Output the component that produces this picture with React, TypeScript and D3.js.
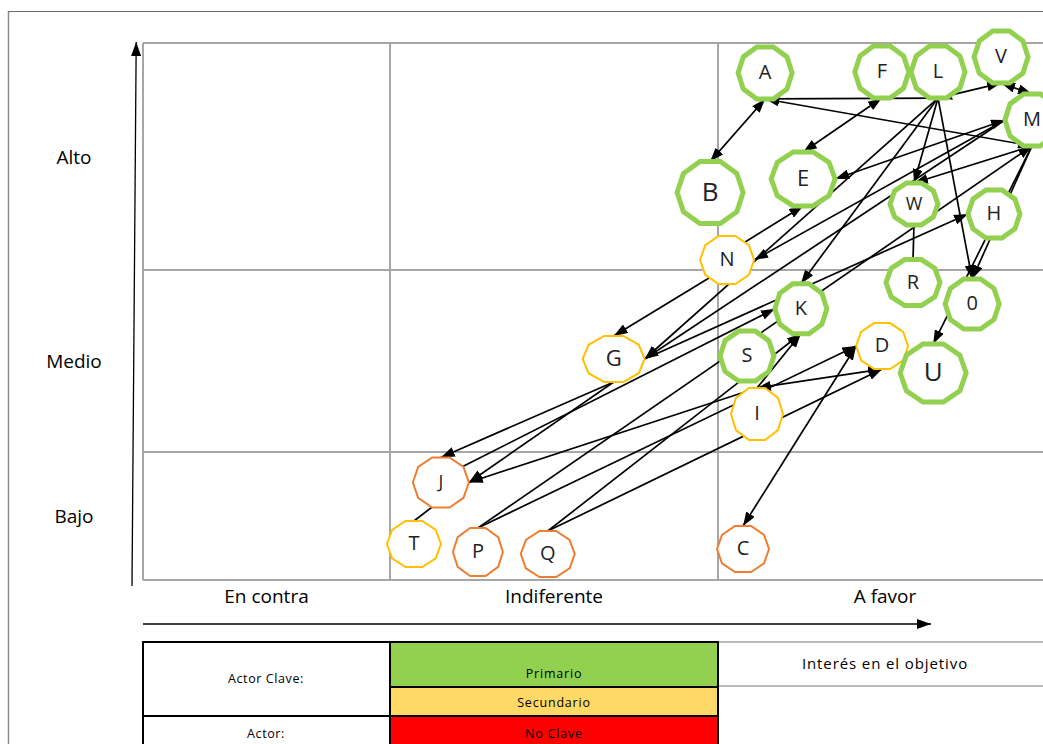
import React from "react";
import * as d3 from "d3";

// ---------- data ----------
const interestLabels = ["En contra", "Indiferente", "A favor"];
const influenceLabels = ["Bajo", "Medio", "Alto"];

const actorIds = ["A","F","L","V","M","B","E","W","H","N","R","O","K","G","S","D","U","I","J","T","P","Q","C"];
const actorText = ["A","F","L","V","M","B","E","W","H","N","R","0","K","G","S","D","U","I","J","T","P","Q","C"];
// interest (0..3 across En contra | Indiferente | A favor)
const actorInterest = [2.145,2.504,2.677,2.871,2.966,1.976,2.262,2.603,2.849,2.028,2.6,2.782,2.255,1.682,2.089,2.505,2.662,2.12,1.155,1.073,1.268,1.481,2.077];
// influence (0..3 across Bajo | Medio | Alto)
const actorInfluence = [2.868,2.872,2.872,2.938,2.661,2.341,2.401,2.291,2.247,2.044,1.931,1.813,1.787,1.511,1.527,1.582,1.434,1.209,0.762,0.281,0.219,0.203,0.242];
// P = primario, S = secundario, N = no clave
const actorKind = ["P","P","P","P","P","P","P","P","P","S","P","P","P","S","P","S","P","S","N","S","N","N","N"];

// relations: source, target, arrows
const links: [string, string, string][] = [
  ["A","B","both"],["L","A","end"],["A","M","both"],["F","E","both"],["L","V","both"],["V","M","both"],
  ["L","W","end"],["M","W","end"],["L","O","end"],["M","O","end"],["M","U","end"],["L","K","end"],
  ["E","M","both"],["N","E","end"],["M","N","end"],["N","G","end"],["L","G","end"],["M","G","end"],
  ["G","J","end"],["G","J","end"],["I","J","end"],["G","H","end"],["J","K","end"],["I","K","end"],
  ["I","D","both"],["P","D","end"],["Q","D","end"],["C","D","both"],["Q","K","end"],
  ["P","M","end"],["T","J","none"],["W","R","none"]
];

// ---------- layout / style ----------
const linkPorts: [number, number][] = [
  [90,-90],[90,90],[90,90],[90,-90],[90,90],[90,-90],
  [90,-90],[90,-90],[90,-90],[90,-90],[90,-90],[90,-90],
  [0,180],[-45,90],[180,0],[135,-90],[90,0],[180,0],
  [90,-90],[90,0],[-90,0],[0,180],[-36,180],[-90,90],
  [-90,90],[-90,180],[-90,90],[-90,180],[-90,90],
  [-90,90],[-90,110],[90,-90]
];
const shapeSize: Record<string, [number, number, number]> = {
  // rx, ry, fontSize
  A:[27,26,20],F:[27,26,20],L:[27,26,20],V:[27,26,20],M:[27,26,20],B:[33,31,26],E:[32,27,22],
  W:[24,21,18],H:[26,24,20],N:[27,24,20],R:[27,23,20],O:[27,25,20],K:[26,25,20],G:[31,23,22],
  S:[27,25,20],D:[26,23,20],U:[33,29,26],I:[26,26,20],J:[28,25,18],T:[27,23,20],P:[25,24,20],
  Q:[27,23,20],C:[26,23,20]
};
const kindStyle: Record<string, { stroke: string; width: number }> = {
  P: { stroke: "#92d050", width: 5 },
  S: { stroke: "#ffc000", width: 2 },
  N: { stroke: "#ed7d31", width: 2 },
};

const FONT = "'Open Sans', 'Liberation Sans', sans-serif";

const x = d3.scaleLinear().domain([0, 1, 2, 3]).range([143, 390, 718, 1043]);
const y = d3.scaleLinear().domain([0, 1, 2, 3]).range([580, 452, 270, 43]);

function decagon(rx: number, ry: number): [number, number][] {
  const k = 1 / Math.sin((72 * Math.PI) / 180);
  return d3.range(10).map((i) => {
    const a = (i * 36 * Math.PI) / 180;
    return [rx * Math.cos(a), ry * k * Math.sin(a)] as [number, number];
  });
}

function port(id: string, deg: number): [number, number] {
  const i = actorIds.indexOf(id);
  const cx = x(actorInterest[i]);
  const cy = y(actorInfluence[i]);
  const [rx, ry] = shapeSize[id];
  const poly = decagon(rx, ry);
  const a = (deg * Math.PI) / 180;
  const dx = Math.cos(a), dy = Math.sin(a);
  let best = 0;
  for (let j = 0; j < poly.length; j++) {
    const [x1, y1] = poly[j];
    const [x2, y2] = poly[(j + 1) % poly.length];
    const ex = x2 - x1, ey = y2 - y1;
    const den = dx * ey - dy * ex;
    if (Math.abs(den) < 1e-9) continue;
    const t = (x1 * ey - y1 * ex) / den;
    const u = (x1 * dy - y1 * dx) / den;
    if (t > 0 && u >= -1e-6 && u <= 1 + 1e-6) best = t;
  }
  return [cx + dx * best, cy + dy * best];
}

export default function App() {
  const line = d3.line();
  return (
    <svg width={1043} height={744} style={{ position: "absolute", left: 0, top: 0, background: "#fff" }}>
      <defs>
        <marker id="ah" viewBox="0 0 10 10" refX="10" refY="5" markerWidth="14" markerHeight="10"
          markerUnits="userSpaceOnUse" orient="auto-start-reverse" preserveAspectRatio="none">
          <path d="M0,0 L10,5 L0,10 z" fill="#000" />
        </marker>
      </defs>
      <rect x={0} y={0} width={1043} height={744} fill="#fff" />
      {/* outer frame */}
      <line x1={8.5} y1={11} x2={8.5} y2={744} stroke="#8c8c8c" strokeWidth={1.5} />
      <line x1={8} y1={11.5} x2={1043} y2={11.5} stroke="#6b6b6b" strokeWidth={1.2} />

      {/* grid */}
      {[0, 1, 2].map((v) => (
        <line key={"gv" + v} x1={x(v)} x2={x(v)} y1={y(3)} y2={y(0)} stroke="#a6a6a6" strokeWidth={2} />
      ))}
      {[0, 1, 2, 3].map((v) => (
        <line key={"gh" + v} x1={x(0)} x2={x(3)} y1={y(v)} y2={y(v)} stroke="#a6a6a6" strokeWidth={2} />
      ))}

      {/* axis arrows */}
      <line x1={132} y1={586} x2={136.2} y2={42} stroke="#000" strokeWidth={1.3} markerEnd="url(#ah)" />
      <line x1={143} y1={624} x2={931} y2={624} stroke="#000" strokeWidth={1.3} markerEnd="url(#ah)" />

      {influenceLabels.map((t, i) => (
        <text key={t} x={74} y={(y(i) + y(i + 1)) / 2 + 2} fontFamily={FONT} fontSize={19} textAnchor="middle"
          dominantBaseline="middle" fill="#000">{t}</text>
      ))}
      {interestLabels.map((t, i) => (
        <text key={t} x={i === 2 ? 885 : (x(i) + x(i + 1)) / 2} y={598} fontFamily={FONT} fontSize={19}
          textAnchor="middle" dominantBaseline="middle" fill="#000">{t}</text>
      ))}

      {/* links */}
      {links.map(([s, t, dir], i) => {
        const p1 = port(s, linkPorts[i][0]);
        const p2 = port(t, linkPorts[i][1]);
        return (
          <path key={"l" + i} d={line([p1, p2]) || ""} stroke="#000" strokeWidth={1.7} fill="none"
            markerEnd={dir !== "none" ? "url(#ah)" : undefined}
            markerStart={dir === "both" ? "url(#ah)" : undefined} />
        );
      })}

      {/* actors */}
      {actorIds.map((id, i) => {
        const cx = x(actorInterest[i]);
        const cy = y(actorInfluence[i]);
        const [rx, ry, fs] = shapeSize[id];
        const st = kindStyle[actorKind[i]];
        const pts = decagon(rx, ry).map(([a, b]) => [a + cx, b + cy] as [number, number]);
        return (
          <g key={id}>
            <path d={(d3.line()(pts) || "") + "Z"} fill="#fff" stroke={st.stroke} strokeWidth={st.width}
              strokeLinejoin="miter" />
            <text x={cx} y={cy + 1} fontFamily={FONT} fontSize={fs} textAnchor="middle"
              dominantBaseline="middle" fill="#222">{actorText[i]}</text>
          </g>
        );
      })}

      {/* legend */}
      <line x1={718} y1={642} x2={1043} y2={642} stroke="#a6a6a6" strokeWidth={1.5} />
      <line x1={718} y1={686} x2={1043} y2={686} stroke="#a6a6a6" strokeWidth={1.5} />
      <text x={885} y={665} fontFamily={FONT} fontSize={15} letterSpacing={0.9} textAnchor="middle"
        dominantBaseline="middle" fill="#000">Interés en el objetivo</text>
      <rect x={390} y={642} width={328} height={45} fill="#92d050" />
      <rect x={390} y={687} width={328} height={29} fill="#ffd966" />
      <rect x={390} y={716} width={328} height={30} fill="#ff0000" />
      <rect x={143} y={642} width={575} height={110} fill="none" stroke="#000" strokeWidth={2} />
      <line x1={390} y1={642} x2={390} y2={744} stroke="#000" strokeWidth={2} />
      <line x1={390} y1={687} x2={718} y2={687} stroke="#000" strokeWidth={2} />
      <line x1={143} y1={716} x2={718} y2={716} stroke="#000" strokeWidth={2} />
      <text x={266} y={680} fontFamily={FONT} fontSize={12.5} letterSpacing={0.6} textAnchor="middle"
        dominantBaseline="middle" fill="#000">Actor Clave:</text>
      <text x={266} y={735} fontFamily={FONT} fontSize={12.5} letterSpacing={0.6} textAnchor="middle"
        dominantBaseline="middle" fill="#000">Actor:</text>
      <text x={554} y={675} fontFamily={FONT} fontSize={12.5} letterSpacing={0.8} textAnchor="middle"
        dominantBaseline="middle" fill="#000">Primario</text>
      <text x={554} y={704} fontFamily={FONT} fontSize={12.5} letterSpacing={0.8} textAnchor="middle"
        dominantBaseline="middle" fill="#000">Secundario</text>
      <text x={554} y={735} fontFamily={FONT} fontSize={12.5} letterSpacing={0.8} textAnchor="middle"
        dominantBaseline="middle" fill="#000">No Clave</text>
    </svg>
  );
}
